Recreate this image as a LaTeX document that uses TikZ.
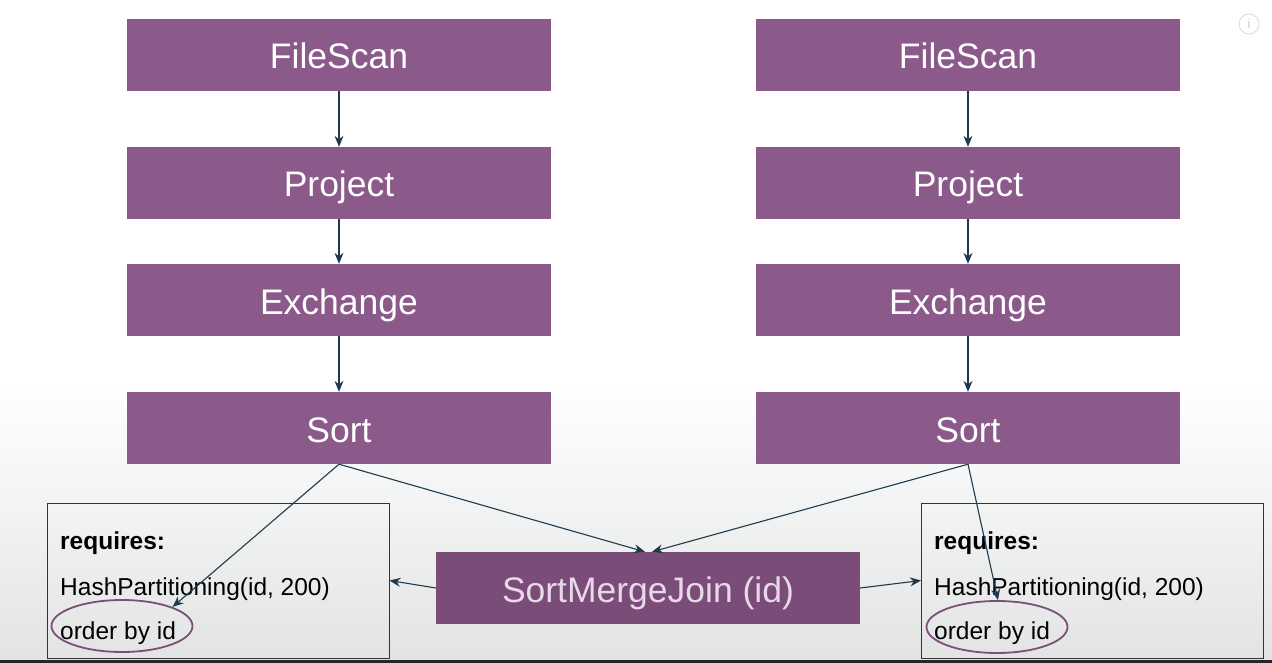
\documentclass[tikz,border=0pt]{standalone}
\usepackage{fontspec}
\setmainfont{Liberation Sans}
\usetikzlibrary{arrows.meta,shapes.geometric}
\definecolor{opbox}{HTML}{8B5A8A}
\definecolor{joinbox}{HTML}{7A4C78}
\definecolor{jointext}{HTML}{E8D8E8}
\definecolor{arrowc}{HTML}{1F3A4D}
\definecolor{ringc}{HTML}{7A4F78}
\definecolor{bgbot}{HTML}{E2E4E4}
\tikzset{
  opnode/.style={fill=opbox, text=white, minimum width=424pt, minimum height=72pt, inner sep=0pt,
    text height=28pt, text depth=0pt, font=\fontsize{35.5}{40}\selectfont},
  joinnode/.style={opnode, fill=joinbox, text=jointext},
  reqbox/.style={draw=black!80, line width=0.9pt, minimum width=342pt, minimum height=155pt, inner sep=0pt},
  reqtext/.style={anchor=base west, inner sep=0pt, text=black, font=\fontsize{24.5}{28}\selectfont},
  ring/.style={ellipse, draw=ringc, line width=1.8pt, minimum width=141pt, minimum height=52pt, inner sep=0pt},
  flow/.style={draw=arrowc, line width=1.1pt, -{Stealth[length=11pt,width=9pt]}}
}
\begin{document}
\begin{tikzpicture}[x=1pt,y=-1pt]
\useasboundingbox (0,0) rectangle (1272,663);
% background
\fill[white] (0,0) rectangle (1272,380);
\shade[top color=white, bottom color=bgbot] (0,380) rectangle (1272,663);
\fill[black!85] (0,660) rectangle (1272,663);
% info icon
\node[circle, draw=black!15, line width=0.8pt, minimum size=20pt, inner sep=0pt, text=black!20,
  font=\fontsize{13}{13}\selectfont] (info) at (1249,24) {i};
% left column
\node[opnode] (fsL) at (339,55) {FileScan};
\node[opnode] (prL) at (339,183) {Project};
\node[opnode] (exL) at (339,300) {Exchange};
\node[opnode] (soL) at (339,428) {Sort};
% right column
\node[opnode] (fsR) at (968,55) {FileScan};
\node[opnode] (prR) at (968,183) {Project};
\node[opnode] (exR) at (968,300) {Exchange};
\node[opnode] (soR) at (968,428) {Sort};
% join
\node[joinnode] (smj) at (648,588) {SortMergeJoin (id)};
% requirement boxes
\node[reqbox] (reqL) at (218,580.5) {};
\node[reqbox] (reqR) at (1092.5,580.5) {};
\node[reqtext] (rqL1) at (60,549.5) {\bfseries requires:};
\node[reqtext] (rqL2) at (60,595) {HashPartitioning(id, 200)};
\node[reqtext] (rqL3) at (60,639) {order by id};
\node[reqtext] (rqR1) at (934,549.5) {\bfseries requires:};
\node[reqtext] (rqR2) at (934,595) {HashPartitioning(id, 200)};
\node[reqtext] (rqR3) at (934,639) {order by id};
\node[ring] (ellL) at (122,626) {};
\node[ring] (ellR) at (997,627) {};
% arrows
\draw[flow] (fsL) -- (prL);
\draw[flow] (prL) -- (exL);
\draw[flow] (exL) -- (soL);
\draw[flow] (fsR) -- (prR);
\draw[flow] (prR) -- (exR);
\draw[flow] (exR) -- (soR);
\draw[flow] (soL.south) -- ([xshift=-3pt]smj.north);
\draw[flow] (soR.south) -- ([xshift=4pt]smj.north);
\draw[flow] (soL.south) -- (ellL.north east);
\draw[flow] (soR.south) -- ([xshift=1pt]ellR.north);
\draw[flow] (smj.west) -- (reqL.east);
\draw[flow] (smj.east) -- (reqR.west);
\end{tikzpicture}
\end{document}
